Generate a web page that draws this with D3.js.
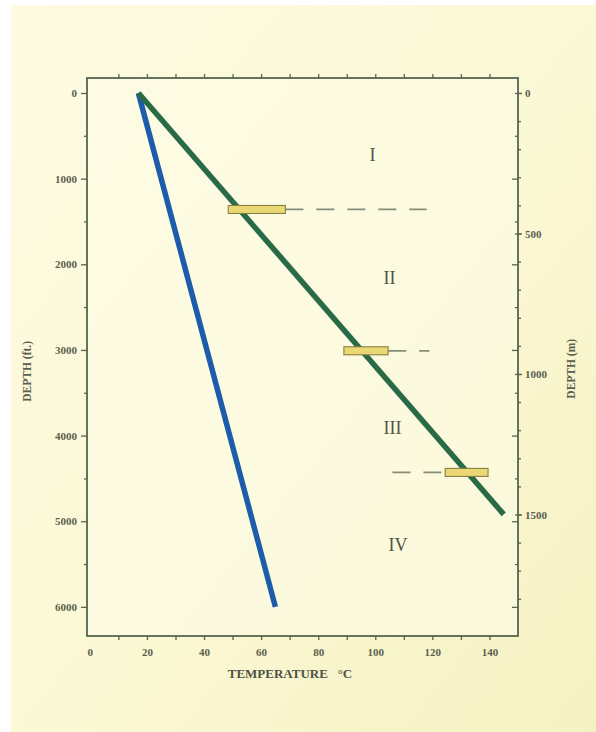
<!DOCTYPE html>
<html>
<head>
<meta charset="utf-8">
<script src="https://cdn.jsdelivr.net/npm/d3@7"></script>
<style>
  body { margin: 0; background: #ffffff; }
  svg { display: block; }
</style>
</head>
<body>
<div id="chart"></div>
<script>
// temperature (C) vs depth (ft) profiles
const greenLine = [[17, 0], [145, 4920]];
const blueLine = [[17, 0], [65, 6000]];
// yellow marker bars: [tempFrom, tempTo, depth ft]
const bars = [[48.5, 68.5, 1360], [89, 104.5, 3010], [124.5, 139.5, 4430]];
// dashed leaders: [tempFrom, tempTo, depth ft]
const dashes = [[68.5, 118, 1360], [104.5, 119, 3010], [106, 124.5, 4430]];
// zone labels: [text, temp, depth ft]
const zones = [['I', 99, 790], ['II', 105, 2230], ['III', 106, 3980], ['IV', 108, 5350]];
const xTicks = [0, 20, 40, 60, 80, 100, 120, 140];
const ftTicks = [0, 1000, 2000, 3000, 4000, 5000, 6000];
const mTicks = [0, 500, 1000, 1500];
const FT_PER_M = 3.2808;

const W = 596, H = 732;
const svg = d3.select('#chart').append('svg')
    .attr('width', W).attr('height', H);

// paper, photographed with a white margin top-left
const grad = svg.append('defs').append('linearGradient')
    .attr('id', 'paper').attr('x1', 0).attr('y1', 0).attr('x2', 1).attr('y2', 1);
grad.append('stop').attr('offset', '0%').attr('stop-color', '#fdfbe2');
grad.append('stop').attr('offset', '55%').attr('stop-color', '#fbf8d4');
grad.append('stop').attr('offset', '100%').attr('stop-color', '#f4f1c2');
svg.append('rect').attr('width', W).attr('height', H).attr('fill', '#ffffff');
svg.append('rect').attr('x', 11).attr('y', 5).attr('width', W - 11).attr('height', H - 5)
    .attr('fill', 'url(#paper)');

const x = d3.scaleLinear().domain([-1, 150]).range([87, 518]);
const y = d3.scaleLinear().domain([-175, 6340]).range([78, 636]);
const yM = d3.scaleLinear().domain([-175 / FT_PER_M, 6340 / FT_PER_M]).range([78, 636]);

const axisColor = '#56654f';
const textColor = '#5c5f50';
const font = '"Liberation Serif", "DejaVu Serif", serif';

// plot area
svg.append('rect')
    .attr('x', x(-1)).attr('y', y(-175))
    .attr('width', x(150) - x(-1)).attr('height', y(6340) - y(-175))
    .attr('fill', '#fefce6').attr('fill-opacity', 0.6)
    .attr('stroke', axisColor).attr('stroke-width', 1.8);

function styleAxis(g) {
    g.select('.domain').remove();
    g.selectAll('line').attr('stroke', axisColor).attr('stroke-width', 1.3);
    g.selectAll('text').attr('fill', textColor).attr('font-family', font)
        .attr('font-size', 11).attr('font-weight', 'bold');
}

// left: feet
svg.append('g').attr('transform', `translate(${x(-1)},0)`)
    .call(d3.axisLeft(y).tickValues(ftTicks).tickSize(6).tickPadding(4).tickFormat(d3.format('d')))
    .call(styleAxis);
svg.append('g').attr('transform', `translate(${x(-1)},0)`)
    .call(d3.axisLeft(y).tickValues(d3.range(500, 6001, 1000)).tickSize(3).tickFormat(''))
    .call(styleAxis);

// right: inner feet ticks + outer metre ticks
svg.append('g').attr('transform', `translate(${x(150)},0)`)
    .call(d3.axisLeft(y).tickValues(d3.range(500, 6001, 500)).tickSize(0).tickFormat(''))
    .call(g => g.selectAll('.tick line').attr('x2', d => d % 1000 === 0 ? -6 : -3))
    .call(styleAxis);
svg.append('g').attr('transform', `translate(${x(150)},0)`)
    .call(d3.axisRight(yM).tickValues(d3.range(0, 1801, 100)).tickSize(3).tickFormat(''))
    .call(g => g.selectAll('.tick line').attr('x1', d => d % 500 === 0 ? -3 : 0))
    .call(styleAxis);
svg.append('g').attr('transform', `translate(${x(150)},0)`)
    .call(d3.axisRight(yM).tickValues(mTicks).tickSize(4).tickPadding(3).tickFormat(d3.format('d')))
    .call(styleAxis);

// bottom and top
svg.append('g').attr('transform', `translate(0,${y(6340)})`)
    .call(d3.axisBottom(x).tickValues(xTicks).tickSize(0).tickPadding(12).tickFormat(d3.format('d')))
    .call(styleAxis);
svg.append('g').attr('transform', `translate(0,${y(6340)})`)
    .call(d3.axisBottom(x).tickValues(d3.range(10, 141, 10)).tickSize(4).tickFormat(''))
    .call(styleAxis);
svg.append('g').attr('transform', `translate(0,${y(-175)})`)
    .call(d3.axisTop(x).tickValues(d3.range(10, 141, 10)).tickSize(4).tickFormat(''))
    .call(styleAxis);

// axis titles
svg.append('text')
    .attr('transform', `translate(31,${y(3250)}) rotate(-90)`)
    .attr('text-anchor', 'middle').attr('fill', textColor)
    .attr('font-family', font).attr('font-size', 11.5).attr('font-weight', 'bold')
    .text('DEPTH (ft.)');
svg.append('text')
    .attr('transform', `translate(575,${y(3220)}) rotate(-90)`)
    .attr('text-anchor', 'middle').attr('fill', textColor)
    .attr('font-family', font).attr('font-size', 11.5).attr('font-weight', 'bold')
    .text('DEPTH (m)');
svg.append('text')
    .attr('x', 290).attr('y', 678)
    .attr('text-anchor', 'middle').attr('fill', '#4f5245')
    .attr('font-family', font).attr('font-size', 13).attr('font-weight', 'bold')
    .attr('xml:space', 'preserve')
    .text('TEMPERATURE   °C');

// dashed leaders
svg.append('g').selectAll('line').data(dashes).join('line')
    .attr('x1', d => x(d[0])).attr('x2', d => x(d[1]))
    .attr('y1', d => y(d[2])).attr('y2', d => y(d[2]))
    .attr('stroke', '#858d78').attr('stroke-width', 1.8)
    .attr('stroke-dasharray', '18,13');

// profiles
const line = d3.line().x(d => x(d[0])).y(d => y(d[1]));
svg.append('path').datum(blueLine).attr('d', line)
    .attr('fill', 'none').attr('stroke', '#1c5cab').attr('stroke-width', 5.5)
    .attr('stroke-linecap', 'butt');
svg.append('path').datum(greenLine).attr('d', line)
    .attr('fill', 'none').attr('stroke', '#296a47').attr('stroke-width', 5.5)
    .attr('stroke-linecap', 'butt');

// yellow bars
svg.append('g').selectAll('rect').data(bars).join('rect')
    .attr('x', d => x(d[0])).attr('width', d => x(d[1]) - x(d[0]))
    .attr('y', d => y(d[2]) - 4).attr('height', 8)
    .attr('fill', '#ead874').attr('stroke', '#8a7f42').attr('stroke-width', 1.1);

// zone labels
svg.append('g').selectAll('text').data(zones).join('text')
    .attr('x', d => x(d[1])).attr('y', d => y(d[2]))
    .attr('text-anchor', 'middle').attr('fill', '#4f5245')
    .attr('font-family', font).attr('font-size', 18)
    .text(d => d[0]);
</script>
</body>
</html>
